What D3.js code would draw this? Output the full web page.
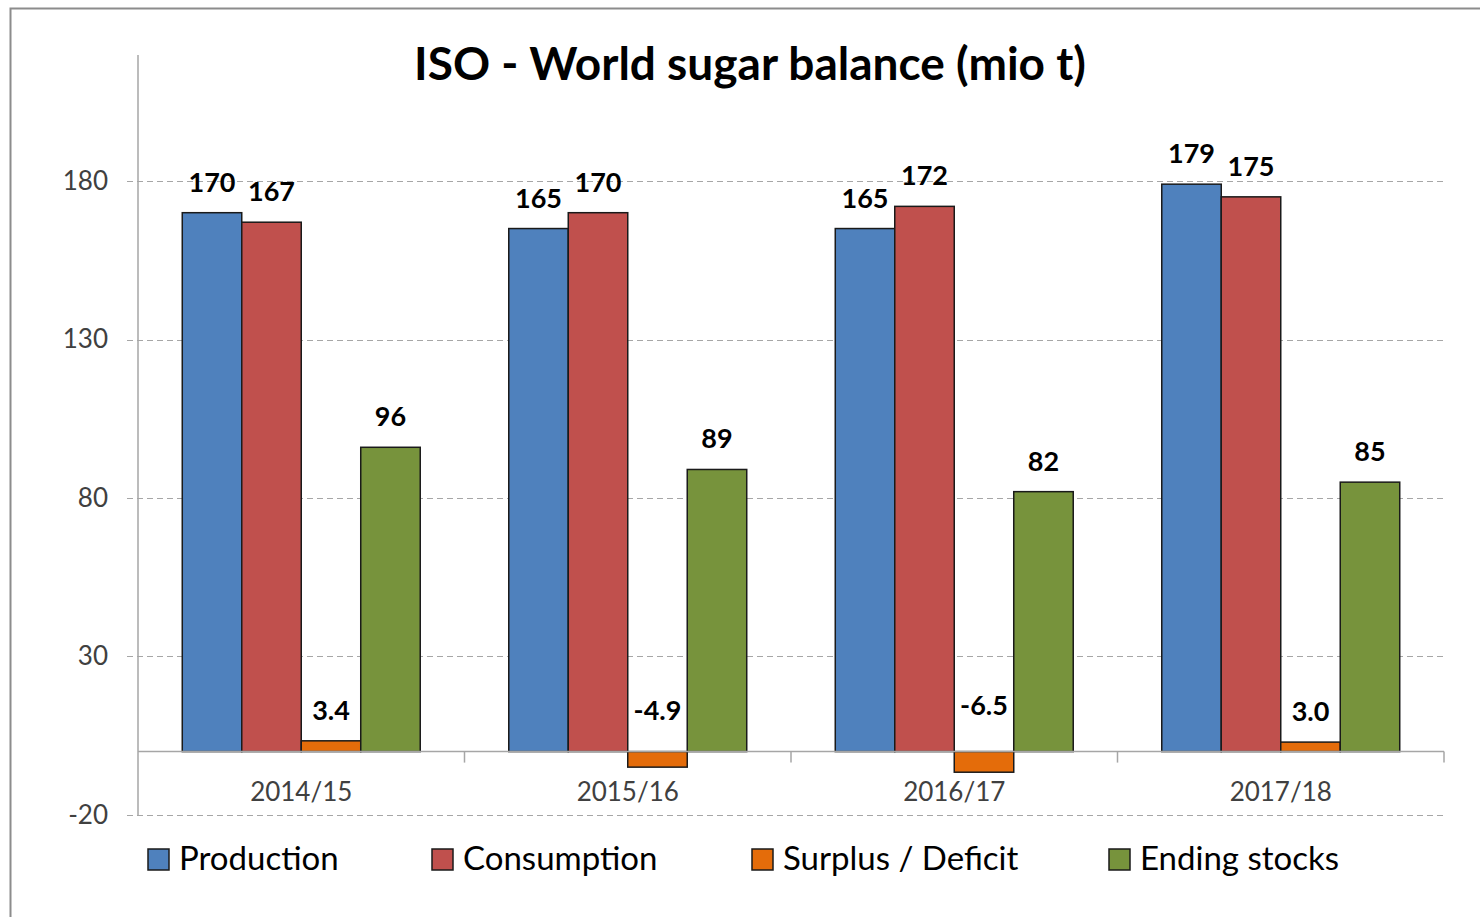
<!DOCTYPE html>
<html>
<head>
<meta charset="utf-8">
<script src="https://cdn.jsdelivr.net/npm/d3@7"></script>
<style>
  body { margin: 0; background: #fff; }
  svg text { font-family: Lato, "Open Sans", sans-serif; }
</style>
</head>
<body>
<div id="chart-area"></div>
<script>
const years = ['2014/15', '2015/16', '2016/17', '2017/18'];
const seriesNames = ['Production', 'Consumption', 'Surplus / Deficit', 'Ending stocks'];
const seriesColors = ['#4f81bd', '#c0504d', '#e46c0a', '#77933c'];
const production = [170, 165, 165, 179];
const consumption = [167, 170, 172, 175];
const surplus = [3.4, -4.9, -6.5, 3.0];
const stocks = [96, 89, 82, 85];
const yTicks = [-20, 30, 80, 130, 180];

const seriesValues = [production, consumption, surplus, stocks];

const W = 1480, H = 917;
const plot = {left: 138, right: 1444, top: 55, bottom: 815};

// plain hyphen instead of d3's unicode minus
const fmt = spec => v => d3.format(spec)(v).replace('\u2212', '-');

const svg = d3.select('#chart-area').append('svg')
  .attr('width', W)
  .attr('height', H);

// outer frame
svg.append('rect')
  .attr('x', 10.5).attr('y', 8.5)
  .attr('width', W).attr('height', H)
  .attr('fill', 'none')
  .attr('stroke', '#8c8c8c')
  .attr('stroke-width', 2);

svg.append('text')
  .attr('x', 750).attr('y', 80)
  .attr('text-anchor', 'middle')
  .attr('font-size', '46px')
  .attr('font-weight', 'bold')
  .attr('fill', '#000')
  .text('ISO - World sugar balance (mio t)');

const y = d3.scaleLinear()
  .domain([-20, 220])
  .range([plot.bottom, plot.bottom - 240 * 3.17]);

const x0 = d3.scaleBand()
  .domain(years)
  .range([plot.left, plot.right]);

const x1 = d3.scaleBand()
  .domain(seriesNames)
  .range([0, x0.bandwidth()])
  .paddingOuter(0.744);

// gridlines
svg.append('g').selectAll('line')
  .data(yTicks)
  .join('line')
  .attr('x1', plot.left - 11).attr('x2', plot.right)
  .attr('y1', d => Math.round(y(d)) + 0.5).attr('y2', d => Math.round(y(d)) + 0.5)
  .attr('stroke', '#a6a6a6')
  .attr('stroke-width', 1.2)
  .attr('stroke-dasharray', '6,4');

// y axis
const yAxisGroup = svg.append('g')
  .attr('transform', `translate(${plot.left}, 0)`)
  .call(d3.axisLeft(y).tickValues(yTicks).tickFormat(fmt('d')).tickSize(0).tickPadding(30));
yAxisGroup.select('.domain').remove();
yAxisGroup.selectAll('text')
  .attr('font-size', '26px')
  .attr('fill', '#404040')
  .attr('font-family', 'Lato, sans-serif');
svg.append('line')
  .attr('x1', plot.left).attr('x2', plot.left)
  .attr('y1', plot.top).attr('y2', plot.bottom)
  .attr('stroke', '#a6a6a6').attr('stroke-width', 1.5);

// bars
const groups = svg.append('g').selectAll('g')
  .data(years)
  .join('g')
  .attr('transform', d => `translate(${x0(d)}, 0)`);

const cells = (d, i) => seriesNames.map((s, k) => ({series: s, k, value: seriesValues[k][i]}));

groups.selectAll('rect')
  .data(cells)
  .join('rect')
  .attr('x', d => x1(d.series))
  .attr('width', x1.bandwidth())
  .attr('y', d => y(Math.max(0, d.value)))
  .attr('height', d => Math.abs(y(d.value) - y(0)))
  .attr('fill', d => seriesColors[d.k])
  .attr('stroke', '#1a1a1a')
  .attr('stroke-width', 1.5);

groups.selectAll('text.val')
  .data(cells)
  .join('text')
  .attr('class', 'val')
  .attr('x', d => x1(d.series) + x1.bandwidth() / 2)
  .attr('y', d => y(Math.abs(d.value)) - (d.value < 0 ? 16 : 21))
  .attr('text-anchor', 'middle')
  .attr('font-size', '27px')
  .attr('font-weight', 'bold')
  .attr('fill', '#000')
  .text(d => d.k === 2 ? fmt('.1f')(d.value) : fmt('d')(d.value));

// x axis
svg.append('line')
  .attr('x1', plot.left).attr('x2', plot.right)
  .attr('y1', y(0)).attr('y2', y(0))
  .attr('stroke', '#a6a6a6').attr('stroke-width', 1.5);
svg.append('g').selectAll('line')
  .data(years)
  .join('line')
  .attr('x1', d => x0(d) + x0.bandwidth()).attr('x2', d => x0(d) + x0.bandwidth())
  .attr('y1', y(0)).attr('y2', y(0) + 11)
  .attr('stroke', '#a6a6a6').attr('stroke-width', 1.5);
svg.append('g').selectAll('text')
  .data(years)
  .join('text')
  .attr('x', d => x0(d) + x0.bandwidth() / 2)
  .attr('y', y(0) + 49)
  .attr('text-anchor', 'middle')
  .attr('font-size', '26px')
  .attr('fill', '#404040')
  .text(d => d);

// legend
const legendX = [148, 432, 752, 1109];
const legend = svg.append('g');
seriesNames.forEach((name, i) => {
  const row = legend.append('g')
    .attr('transform', `translate(${legendX[i]}, 849)`);
  row.append('rect')
    .attr('width', 21).attr('height', 21)
    .attr('fill', seriesColors[i])
    .attr('stroke', '#1a1a1a')
    .attr('stroke-width', 1.5);
  row.append('text')
    .attr('x', 31).attr('y', 21)
    .attr('font-size', '33px')
    .attr('fill', '#000')
    .text(name);
});
</script>
</body>
</html>
